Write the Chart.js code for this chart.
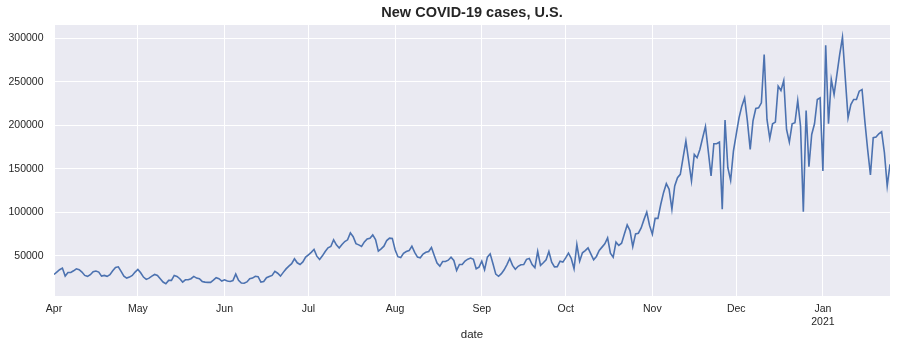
<!DOCTYPE html>
<html>
<head>
<meta charset="utf-8">
<title>New COVID-19 cases, U.S.</title>
<script src="https://cdn.jsdelivr.net/npm/chart.js@4.4.1/dist/chart.umd.min.js"></script>
<style>
  html, body { margin: 0; padding: 0; background: #fff; }
  #wrap { width: 897px; height: 348px; }
</style>
</head>
<body>
<div id="wrap"><canvas id="myChart" width="897" height="348"></canvas></div>
<script>
// daily new cases, 2020-04-01 .. 2021-01-25 (one array per month)
const aprCases = [28600,31300,34000,35900,26700,30900,30900,32800,35100,34000,
                  31300,27500,26400,28300,31700,32500,31300,26700,27500,26400,
                  28300,32800,36700,37400,32100,26700,24400,25600,27500,31300];
const mayCases = [34400,30600,25600,22900,24400,26700,28600,27500,23700,19900,
                  18000,21800,21800,27500,26400,23700,19900,22500,22500,23700,
                  26400,24400,23700,20600,19800,19500,19500,22000,24800,23700,
                  21000];
const junCases = [22500,21000,20600,21500,29000,21800,18700,18500,20000,23700,
                  24400,26500,26000,19900,20600,24800,26300,27500,32100,30000,
                  26700,31000,35000,38200,41000,46600,42000,40000,43000,48500];
const julCases = [51200,54000,57300,49600,45800,50000,55000,59200,60700,68400,
                  62600,59000,63000,66400,68400,76400,72000,64000,62600,60700,
                  66000,69500,70300,74100,68700,55400,58000,61100,67600,70300,
                  70000];
const augCases = [57000,49000,48000,53000,55000,56000,61000,54000,48500,47700,
                  52000,54000,55000,59600,50400,41600,38200,43500,43500,45000,
                  48500,44700,33200,40100,40000,44000,46200,47400,46000,35100,
                  37000];
const sepCases = [43900,34000,48500,52300,41000,29000,26500,29500,34000,40000,
                  47000,39000,34500,38000,39700,40000,46000,47000,40000,36300,
                  55000,39000,42000,45400,55000,42800,37400,37600,43900,42800];
const octCases = [47700,53100,47000,35100,63000,43900,53500,56100,59200,52300,
                  45400,49300,56100,60000,63800,70600,53100,48500,65700,61900,
                  64500,75200,85500,79000,60700,75200,76000,82100,91600,100300,
                  85000];
const novCases = [74800,93200,93000,109000,122600,132900,126400,103500,130300,139800,
                  143600,162800,181900,158900,136000,166600,162800,172300,185700,198700,
                  170400,141700,178800,178800,180700,103500,206000,151300,136800,170400];
const decCases = [189500,208600,222000,231600,204800,172300,205000,219300,220100,225800,
                  281300,206700,184900,201700,203700,245000,240000,251500,195200,180700,
                  201700,202900,228500,199100,100800,217000,152400,189500,201700,229700,
                  231600];
const janCases = [147500,292000,201700,252600,235400,258300,281300,301100,254500,208600,
                  223900,229700,229700,239200,241100,204800,172300,142900,185700,186500,
                  190300,192600,168500,130300,155100];

const startDate = '2020-04-01';
const tickDates = ['2020-04-01','2020-05-01','2020-06-01','2020-07-01','2020-08-01',
                   '2020-09-01','2020-10-01','2020-11-01','2020-12-01','2021-01-01'];
const tickLabels = ['Apr','May','Jun','Jul','Aug','Sep','Oct','Nov','Dec',['Jan','2021']];
const yTicks = [50000,100000,150000,200000,250000,300000];
const chartTitle = 'New COVID-19 cases, U.S.';

const cases = [].concat(aprCases, mayCases, junCases, julCases, augCases,
                        sepCases, octCases, novCases, decCases, janCases);

const DAY = 24 * 3600 * 1000;
function dayIndex(d) {
    return Math.round((Date.parse(d) - Date.parse(startDate)) / DAY);
}
const tickDays = tickDates.map(dayIndex);

const lo = Math.min(...cases), hi = Math.max(...cases);
const yPad = (hi - lo) * 0.05;

const TEXT = '#262626';
const FONT = '"Liberation Sans", Arial, sans-serif';
Chart.defaults.font.family = FONT;
Chart.defaults.color = TEXT;

// axes face + title centred over the plot area, like matplotlib does
const plotBg = {
    id: 'plotBg',
    beforeDraw(chart) {
        const a = chart.chartArea, c = chart.ctx;
        c.save();
        c.fillStyle = '#EAEAF2';
        c.fillRect(a.left, a.top, a.right - a.left, a.bottom - a.top);
        c.restore();
    },
    afterDraw(chart) {
        const a = chart.chartArea, c = chart.ctx;
        c.save();
        c.fillStyle = TEXT;
        c.font = 'bold 14.5px ' + FONT;
        c.textAlign = 'center';
        c.textBaseline = 'middle';
        c.fillText(chartTitle, (a.left + a.right) / 2, 12.5);
        c.restore();
    }
};

let ctx = document.getElementById('myChart').getContext('2d');
const myChart = new Chart(ctx, {
    type: 'line',
    data: {
        datasets: [{
            data: cases.map((v, i) => ({x: i, y: v})),
            borderColor: '#4C72B0',
            borderWidth: 1.6,
            pointRadius: 0,
            tension: 0,
            fill: false
        }]
    },
    options: {
        responsive: false,
        animation: false,
        devicePixelRatio: 1,
        layout: { padding: { left: 0, right: 7, top: 25, bottom: 0 } },
        plugins: {
            legend: { display: false },
            tooltip: { enabled: false },
            title: { display: false }
        },
        scales: {
            x: {
                type: 'linear',
                min: 0,
                max: cases.length - 1,
                grid: { color: '#ffffff', lineWidth: 1, drawTicks: false },
                border: { display: false },
                afterBuildTicks: s => { s.ticks = tickDays.map(v => ({value: v})); },
                ticks: {
                    autoSkip: false,
                    maxRotation: 0,
                    padding: 7,
                    font: { size: 10.5 },
                    callback: v => tickLabels[tickDays.indexOf(v)]
                },
                title: { display: true, text: 'date', font: { size: 11.5 }, padding: { top: 0, bottom: 6 } },
                afterFit: s => { s.height = 52; }
            },
            y: {
                min: lo - yPad,
                max: hi + yPad,
                grid: { color: '#ffffff', lineWidth: 1, drawTicks: false },
                border: { display: false },
                afterBuildTicks: s => { s.ticks = yTicks.map(v => ({value: v})); },
                ticks: { padding: 10.5, font: { size: 10.5 }, callback: v => String(v) },
                afterFit: s => { s.width = 54; }
            }
        }
    },
    plugins: [plotBg]
});
</script>
</body>
</html>
